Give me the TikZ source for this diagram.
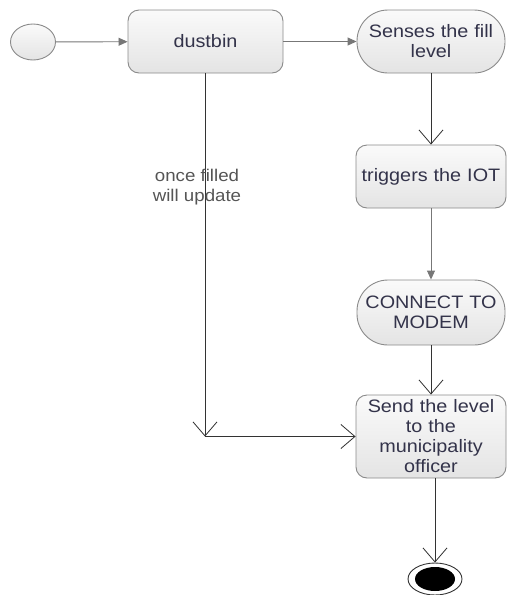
\documentclass[tikz,border=0pt]{standalone}
\usepackage{fontspec}
\setmainfont{Liberation Sans}[FakeStretch=1.1]
\usetikzlibrary{arrows.meta,shapes.geometric}
\definecolor{bordergray}{HTML}{8A8A8A}
\definecolor{fillhi}{HTML}{FAFAFA}
\definecolor{filllo}{HTML}{E4E4E4}
\definecolor{txt}{HTML}{33334A}
\definecolor{linegray}{HTML}{777777}
\definecolor{darkline}{HTML}{333333}
\definecolor{lbltxt}{HTML}{555555}
\tikzset{
  every node/.style={font=\fontsize{18}{20}\selectfont, text=txt},
  box/.style={draw=bordergray, line width=0.9pt, rounded corners=11pt, top color=fillhi, bottom color=filllo, align=center, inner sep=2pt},
  stadium/.style={draw=bordergray, line width=0.9pt, rounded corners=31pt, top color=fillhi, bottom color=filllo, align=center, inner sep=2pt},
  grayarrow/.style={draw=linegray, line width=0.9pt, -{Triangle[length=9pt,width=8pt]}},
  openarrow/.style={draw=darkline, line width=0.8pt, -{Straight Barb[length=14pt,width=24pt,line width=0.8pt]}},
}
\begin{document}
\begin{tikzpicture}[x=1pt,y=-1pt]
\useasboundingbox (0,0) rectangle (507,595);
% start
\node[ellipse, draw=bordergray, line width=0.9pt, top color=fillhi, bottom color=filllo, minimum width=45pt, minimum height=36pt, inner sep=0pt] (start) at (33,42) {};
\node[box, minimum width=155pt, minimum height=63pt] (dustbin) at (205.5,41.5) {dustbin};
\node[stadium, minimum width=148pt, minimum height=63pt, text width=144pt] (senses) at (431,41.5) {Senses the fill\\level};
\node[box, minimum width=150pt, minimum height=63pt, text width=146pt] (trig) at (431,176.5) {triggers the IOT};
\node[stadium, minimum width=148pt, minimum height=65pt, text width=144pt] (modem) at (431,312.5) {CONNECT TO\\MODEM};
\node[box, minimum width=150pt, minimum height=83pt, text width=146pt] (send) at (431,436.5) {Send the level\\to the\\municipality\\officer};
% final
\node[ellipse, draw=darkline, line width=0.9pt, fill=white, minimum width=54pt, minimum height=32pt, inner sep=0pt] (final) at (435,579) {};
\node[ellipse, fill=black, minimum width=40pt, minimum height=24pt, inner sep=0pt] (finalin) at (435,579) {};
% connectors
\draw[grayarrow] (start) -- (dustbin);
\draw[grayarrow] (dustbin) -- (senses);
\draw[openarrow] (senses) -- (trig);
\draw[grayarrow] (trig) -- (modem);
\draw[openarrow] (modem) -- (send);
\draw[openarrow] (send.south -| final.north) -- (final.north);
\coordinate (corner) at (205,436.5);
\draw[openarrow] (dustbin.south -| corner) -- (corner);
\draw[openarrow] (corner) -- (send.west);
% label
\node[text=lbltxt, align=center, font=\fontsize{17}{20}\selectfont] (lbl) at (197,187) {once filled\\will update};
\end{tikzpicture}
\end{document}
